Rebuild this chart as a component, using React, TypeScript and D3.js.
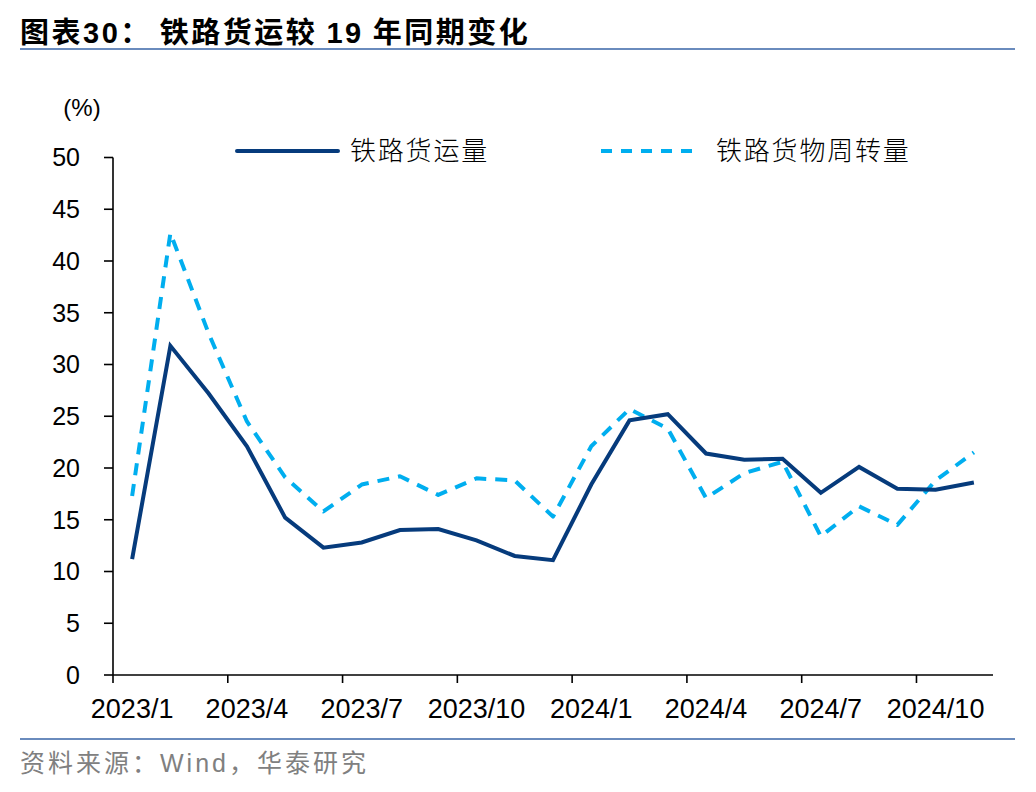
import React from "react";
import * as d3 from "d3";

const months: string[] = [
  "2023/1", "2023/2", "2023/3", "2023/4", "2023/5", "2023/6", "2023/7", "2023/8",
  "2023/9", "2023/10", "2023/11", "2023/12", "2024/1", "2024/2", "2024/3", "2024/4",
  "2024/5", "2024/6", "2024/7", "2024/8", "2024/9", "2024/10", "2024/11",
];

const freightVolume: number[] = [
  11.2, 31.8, 27.2, 22.1, 15.2, 12.3, 12.8, 14.0, 14.1, 13.0, 11.5, 11.1,
  18.4, 24.6, 25.2, 21.4, 20.8, 20.9, 17.6, 20.1, 18.0, 17.9, 18.6,
];

const freightTurnover: number[] = [
  17.3, 42.7, 33.0, 24.5, 19.1, 15.8, 18.4, 19.2, 17.4, 19.0, 18.8, 15.3,
  22.1, 25.7, 23.8, 17.1, 19.5, 20.6, 13.4, 16.3, 14.5, 18.8, 21.5,
];

const yTicks: number[] = [0, 5, 10, 15, 20, 25, 30, 35, 40, 45, 50];
const xTickLabels: string[] = ["2023/1", "2023/4", "2023/7", "2023/10", "2024/1", "2024/4", "2024/7", "2024/10"];

const seriesNames: string[] = ["铁路货运量", "铁路货物周转量"];

const W = 1036;
const H = 792;
const LATIN = "'Liberation Sans', Arial, sans-serif";
const CJK = "'Noto Sans CJK SC', 'Liberation Sans', sans-serif";

export default function App() {
  const x = d3.scaleBand<string>().domain(months).range([113, 993]).paddingInner(0).paddingOuter(0);
  const y = d3.scaleLinear().domain([0, 50]).range([675, 157.5]);
  const cx = (m: string) => (x(m) as number) + x.bandwidth() / 2;

  const line = d3
    .line<number>()
    .x((_, i) => cx(months[i]))
    .y((d) => y(d));

  const solidColor = "#063b7c";
  const dashColor = "#00aeef";

  return (
    <div style={{ position: "absolute", left: 0, top: 0 }}>
      <svg width={W} height={H} style={{ display: "block", background: "#fff" }}>
        {/* title */}
        <text x={20} y={43} fontFamily={CJK} fontWeight={700} fontSize={29} fill="#000" letterSpacing={2.5}>
          图表<tspan fontFamily={LATIN} fontWeight={700}>30</tspan>：
          <tspan dx={8}>铁路货运较 </tspan>
          <tspan fontFamily={LATIN} fontWeight={700}>19</tspan>
          <tspan> 年同期变化</tspan>
        </text>
        <line x1={20} x2={1015} y1={49} y2={49} stroke="#6a8bbd" strokeWidth={2} />

        {/* unit */}
        <text x={82} y={116} textAnchor="middle" fontFamily={LATIN} fontSize={24} fill="#000">(%)</text>

        {/* legend */}
        <line x1={237} x2={338} y1={151} y2={151} stroke={solidColor} strokeWidth={4} strokeLinecap="round" />
        <text x={350} y={160} fontFamily={CJK} fontSize={26} fontWeight={300} fill="#000" letterSpacing={1.8}>{seriesNames[0]}</text>
        <line x1={601} x2={698} y1={151} y2={151} stroke={dashColor} strokeWidth={4} strokeDasharray="11 9" strokeLinecap="butt" />
        <text x={716} y={160} fontFamily={CJK} fontSize={26} fontWeight={300} fill="#000" letterSpacing={1.8}>{seriesNames[1]}</text>

        {/* y axis */}
        <line x1={113} x2={113} y1={y(50)} y2={y(0)} stroke="#000" strokeWidth={1.6} />
        {yTicks.map((t) => (
          <g key={t}>
            <line x1={104} x2={113} y1={y(t)} y2={y(t)} stroke="#000" strokeWidth={1.6} />
            <text x={80} y={y(t)} dy="0.35em" textAnchor="end" fontFamily={LATIN} fontSize={25} fill="#000">{t}</text>
          </g>
        ))}

        {/* x axis */}
        <line x1={113} x2={993} y1={y(0)} y2={y(0)} stroke="#000" strokeWidth={1.6} />
        {xTickLabels.map((m) => (
          <g key={m}>
            <line x1={x(m) as number} x2={x(m) as number} y1={y(0)} y2={y(0) + 8} stroke="#000" strokeWidth={1.6} />
            <text x={cx(m)} y={718} textAnchor="middle" fontFamily={LATIN} fontSize={27} fill="#000">{m}</text>
          </g>
        ))}

        {/* series */}
        <path d={line(freightTurnover) || ""} fill="none" stroke={dashColor} strokeWidth={4} strokeDasharray="12 9" strokeLinejoin="round" />
        <path d={line(freightVolume) || ""} fill="none" stroke={solidColor} strokeWidth={4} strokeLinejoin="miter" />

        {/* footer */}
        <line x1={20} x2={1015} y1={739} y2={739} stroke="#6a8bbd" strokeWidth={2} />
        <text x={20} y={772} fontFamily={CJK} fontSize={25} fill="#808080" letterSpacing={3}>
          资料来源：<tspan fontFamily={LATIN}>Wind</tspan>，华泰研究
        </text>
      </svg>
    </div>
  );
}
